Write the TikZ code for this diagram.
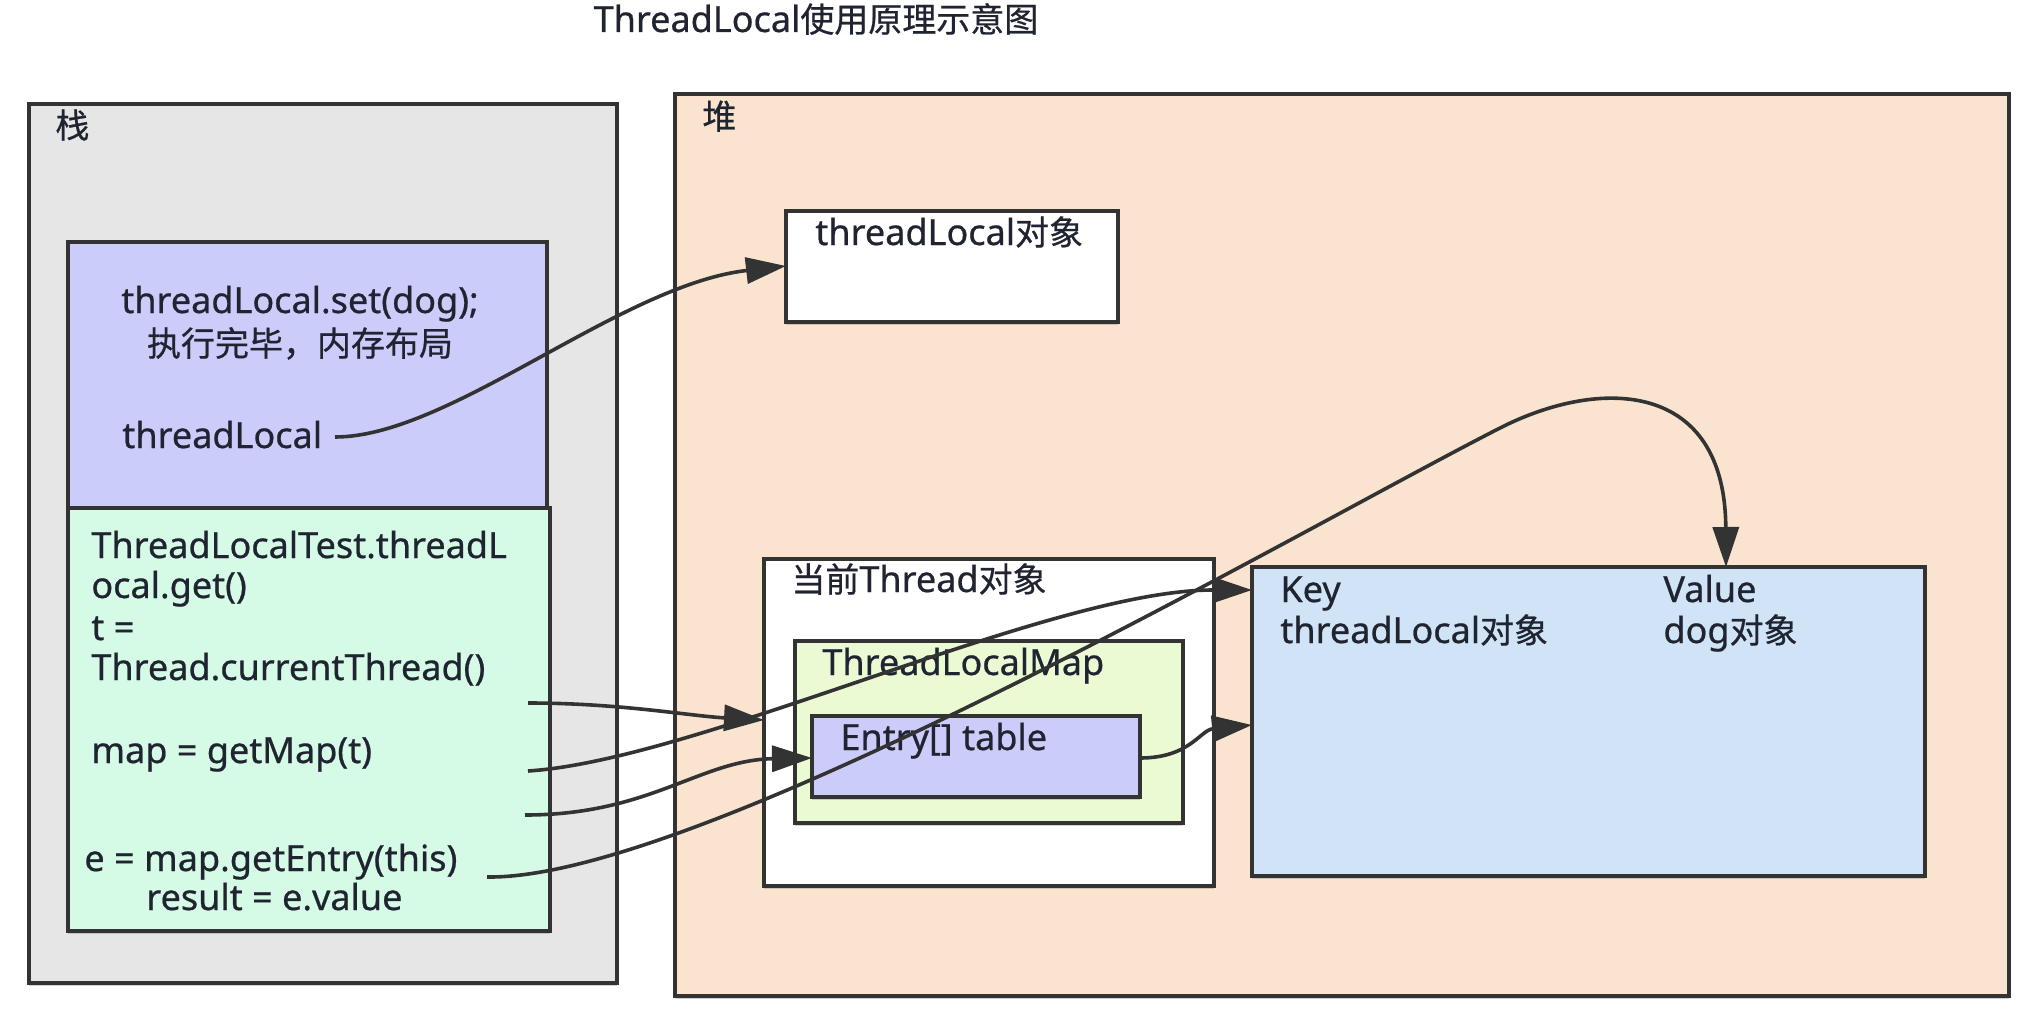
\documentclass[tikz,border=0pt]{standalone}
\usepackage{fontspec}
\setmainfont{Noto Sans}[Scale=1.06, FakeBold=0.6]
\newfontfamily\zhfont{Noto Sans CJK SC}[FakeBold=0.6]
\newcommand{\zh}[1]{{\zhfont #1}}
\usetikzlibrary{arrows.meta,shadows}
\definecolor{stackfill}{HTML}{E6E6E6}
\definecolor{heapfill}{HTML}{FAE4CF}
\definecolor{purplefill}{HTML}{CCCCFA}
\definecolor{greenfill}{HTML}{D5FAE6}
\definecolor{mapfill}{HTML}{EAFAD3}
\definecolor{kvfill}{HTML}{D0E3F7}
\definecolor{edge}{HTML}{333333}
\definecolor{ink}{HTML}{1F2430}
\begin{document}
\begin{tikzpicture}[x=0.5pt,y=-0.5pt,
  box/.style={draw=edge, line width=1.9pt, anchor=north west, inner sep=0pt, outer sep=0pt,
    drop shadow={shadow xshift=0pt, shadow yshift=-1.6pt, opacity=0.35}},
  lbl/.style={anchor=west, inner sep=0pt, text=ink, font=\fontsize{17}{20}\selectfont, text height=14pt, text depth=2pt},
  conn/.style={draw=edge, line width=1.8pt, -{Triangle[length=20pt,width=13pt]}}
]
\useasboundingbox (0,0) rectangle (2038,1022);
\fill[white] (0,0) rectangle (2038,1022);

\node[lbl, anchor=center] (title) at (816,20) {ThreadLocal\zh{使用原理示意图}};

% containers
\node[box, fill=stackfill, minimum width=294pt, minimum height=439.5pt] (stack) at (29,104) {};
\node[box, fill=heapfill, minimum width=667pt, minimum height=451pt] (heap) at (675,94) {};
\node[lbl] (stacklbl) at (55,126) {\zh{栈}};
\node[lbl] (heaplbl) at (702,117) {\zh{堆}};

% stack frames
\node[box, fill=purplefill, minimum width=239.5pt, minimum height=133pt] (frame1) at (68,242) {};
\node[box, fill=greenfill, minimum width=241pt, minimum height=211.5pt] (frame2) at (68,508) {};
\node[lbl, anchor=center] (setline) at (300,301) {threadLocal.set(dog);};
\node[lbl, anchor=center] (done) at (300,344) {\zh{执行完毕，内存布局}};
\node[lbl] (tlref) at (122,436) {threadLocal};

\node[lbl] (g1) at (91,546) {ThreadLocalTest.threadL};
\node[lbl] (g2) at (91,586) {ocal.get()};
\node[lbl] (g3) at (91,628) {t =};
\node[lbl] (g4) at (91,668) {Thread.currentThread()};
\node[lbl] (g5) at (91,751) {map = getMap(t)};
\node[lbl] (g6) at (84,859) {e = map.getEntry(this)};
\node[lbl] (g7) at (146,898) {result = e.value};

% heap objects
\node[box, fill=white, minimum width=166pt, minimum height=55.5pt] (tlobj) at (786,211) {};
\node[lbl] (tlobjlbl) at (815,233) {threadLocal\zh{对象}};

\node[box, fill=white, minimum width=225pt, minimum height=163.5pt] (thread) at (764,559) {};
\node[lbl] (threadlbl) at (791,580) {\zh{当前}Thread\zh{对象}};
\node[box, fill=mapfill, minimum width=194pt, minimum height=91pt] (map) at (795,641) {};
\node[lbl] (maplbl) at (822,663) {ThreadLocalMap};
\node[box, fill=purplefill, minimum width=164pt, minimum height=40.5pt] (entry) at (812,716) {};
\node[lbl] (entrylbl) at (840,738) {Entry[] table};

\node[box, fill=kvfill, minimum width=336.5pt, minimum height=154.5pt] (kv) at (1252,567) {};
\node[lbl] (keylbl) at (1280,590) {Key};
\node[lbl] (keyobj) at (1280,631) {threadLocal\zh{对象}};
\node[lbl] (vallbl) at (1663,590) {Value};
\node[lbl] (valobj) at (1663,631) {dog\zh{对象}};

% connector end points
\coordinate (s1) at (335,437);
\coordinate (s2) at (528,703);
\coordinate (s3) at (528,771);
\coordinate (s4) at (525,815);
\coordinate (s5) at (487,877);
\coordinate (tlin) at (786,266);
\coordinate (threadin) at (764,720);
\coordinate (entryin) at (812,758);
\coordinate (entryout) at (1140,758);
\coordinate (kvkey) at (1252,590);
\coordinate (kvent) at (1252,725);
\coordinate (kvval) at (1726,567);

\draw[conn] (s1) .. controls (450,437) and (620,285) .. (tlin);
\draw[conn] (s2) .. controls (620,703) and (690,716) .. (threadin);
\draw[conn] (s3) .. controls (700,760) and (1050,590) .. (kvkey);
\draw[conn] (s4) .. controls (650,815) and (700,760) .. (entryin);
\draw[conn] (s5) .. controls (700,880) and (1300,530) .. (1500,428) .. controls (1600,377) and (1725,380) .. (kvval);
\draw[conn] (entryout) .. controls (1190,758) and (1200,730) .. (kvent);
\end{tikzpicture}
\end{document}
